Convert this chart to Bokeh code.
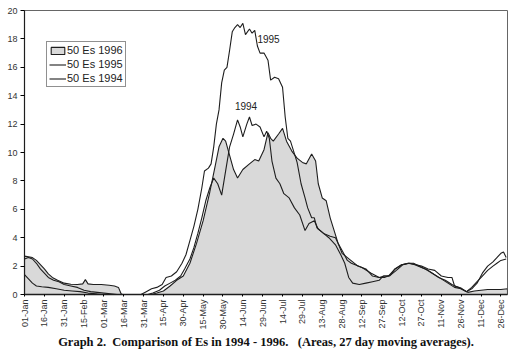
from bokeh.plotting import figure
from bokeh.models import Range1d, FixedTicker, Legend, LegendItem, Label, Title
from bokeh.embed import file_html
from bokeh.resources import INLINE

# tick labels (day-of-year positions, 15 day step)
tick_days = [0, 15, 30, 45, 60, 75, 90, 105, 120, 135, 150, 165, 180, 195, 210,
             225, 240, 255, 270, 285, 300, 315, 330, 345, 360]
tick_labels = ["01-Jan", "16-Jan", "31-Jan", "15-Feb", "01-Mar", "16-Mar", "31-Mar",
               "15-Apr", "30-Apr", "15-May", "30-May", "14-Jun", "29-Jun", "14-Jul",
               "29-Jul", "13-Aug", "28-Aug", "12-Sep", "27-Sep", "12-Oct", "27-Oct",
               "11-Nov", "26-Nov", "11-Dec", "26-Dec"]
y_ticks = [0, 2, 4, 6, 8, 10, 12, 14, 16, 18, 20]

# 1996 (area)
days_1996 = [0, 3, 6, 9, 12, 15, 18, 21, 25, 30, 35, 40, 44, 46, 48, 52, 58, 64, 68, 71, 73, 74,
             96, 100, 105, 110, 115, 120, 125, 130, 135, 140, 144, 147, 150, 152, 155, 158, 161,
             165, 170, 174, 177, 181, 184, 186, 188, 192, 195, 198, 202, 206, 210, 213, 217, 220,
             222, 225, 228, 231, 234, 237, 240, 244, 248, 252, 258, 263, 268, 272, 276, 280, 285,
             290, 294, 298, 303, 308, 313, 318, 323, 328, 332, 335, 340, 345, 350, 355, 360, 365]
es_1996 = [2.7, 2.65, 2.6, 2.4, 2.1, 1.8, 1.45, 1.2, 1.0, 0.8, 0.72, 0.7, 0.75, 1.05, 0.75, 0.7, 0.7,
           0.65, 0.6, 0.5, 0.05, 0.0,
           0.0, 0.1, 0.25, 0.6, 1.0, 1.3, 2.2, 3.6, 5.2, 7.2, 9.0, 10.4, 11.0, 10.8, 9.8, 8.8, 8.2,
           8.8, 9.2, 9.5, 9.4, 10.2, 11.4, 11.0, 10.8, 11.3, 11.7, 10.8, 10.1, 9.6, 9.3, 9.2, 9.9, 9.4,
           7.8, 6.8, 6.6, 5.4, 4.5, 3.6, 2.9, 2.6, 2.3, 2.0, 1.8, 1.3, 1.2, 1.3, 1.3, 1.8, 2.1,
           2.2, 2.2, 2.0, 1.8, 1.5, 1.2, 1.0, 0.7, 0.5, 0.3, 0.15, 0.25, 0.3, 0.35, 0.35, 0.35, 0.4]

# 1995
days_1995 = [0, 3, 6, 9, 12, 15, 18, 22, 26, 30, 35, 40, 45, 50, 55, 60, 65, 70, 88, 92, 96, 100,
             104, 107, 111, 115, 119, 122, 125, 128, 131, 134, 136, 139, 141, 143, 145, 147, 149,
             151, 153, 155, 157, 159, 161, 163, 165, 167, 170, 172, 174, 176, 178, 181, 184, 186,
             189, 192, 195, 197, 199, 201, 204, 206, 209, 212, 214, 217, 219, 221, 226, 231, 235,
             237, 240, 244, 247, 255, 262, 268, 272, 277, 281, 286, 291, 296, 300, 305, 310, 315,
             320, 323, 325, 330, 334, 338, 342, 346, 350, 354, 357, 360, 362, 364]
es_1995 = [2.5, 2.6, 2.5, 2.2, 1.8, 1.5, 1.2, 1.0, 0.9, 0.7, 0.6, 0.5, 0.3, 0.2, 0.15, 0.1, 0.05, 0.0,
           0.0, 0.2, 0.4, 0.5, 0.7, 1.2, 1.3, 1.6, 2.2, 2.8, 3.8, 4.8, 6.0, 7.5, 8.7, 8.9, 9.2, 10.4,
           12.0, 13.0, 14.9, 15.8, 16.0, 17.2, 18.5, 18.8, 19.0, 18.8, 19.1, 18.3, 18.7, 18.4, 18.6,
           17.5, 17.0, 17.0, 16.5, 15.1, 15.3, 15.2, 14.6, 12.5, 11.0, 10.8, 9.9, 9.3, 7.8, 6.8, 6.1,
           5.4, 5.4, 4.7, 4.3, 4.1, 4.0, 3.6, 3.1, 2.4, 2.2, 1.9, 1.5, 1.2, 1.2, 1.4, 1.7, 2.1, 2.2,
           2.1, 2.0, 1.8, 1.7, 1.3, 1.2, 1.2, 0.6, 0.45, 0.2, 0.4, 0.8, 1.5, 2.0, 2.3, 2.6, 2.9, 3.0, 2.6]

# 1994
days_1994 = [0, 3, 6, 9, 13, 18, 24, 30, 36, 42, 48, 54, 58, 93, 97, 102, 106, 110, 114, 118, 121,
             125, 128, 131, 134, 137, 140, 143, 146, 149, 152, 155, 158, 161, 163, 165, 168, 170, 172,
             175, 178, 181, 183, 185, 187, 190, 193, 196, 200, 204, 208, 212, 215, 219, 222, 226, 230,
             235, 239, 242, 245, 248, 253, 258, 263, 268, 271, 275, 280, 285, 290, 295, 300, 305, 310,
             315, 320, 325, 330, 334, 338, 342, 346, 350, 354, 357, 360, 364]
es_1994 = [1.4, 1.1, 0.8, 0.6, 0.55, 0.5, 0.4, 0.3, 0.25, 0.2, 0.1, 0.05, 0.0, 0.0, 0.1, 0.3, 0.6, 0.8,
           1.0, 1.3, 1.8, 2.5, 3.3, 4.3, 5.4, 6.6, 7.5, 8.2, 7.8, 7.0, 8.7, 10.4, 11.3, 12.3, 11.8, 11.1,
           12.0, 12.5, 11.9, 12.0, 11.8, 11.1, 11.5, 11.0, 9.4, 8.2, 7.8, 7.1, 6.8, 6.1, 5.6, 4.5, 5.0,
           5.2, 4.6, 4.3, 4.0, 3.5, 2.8, 2.2, 1.2, 0.8, 0.7, 0.8, 0.9, 1.0, 1.3, 1.3, 1.8, 2.1, 2.2, 2.1,
           1.9, 1.7, 1.4, 1.1, 0.8, 0.5, 0.4, 0.2, 0.5, 0.9, 1.3, 1.7, 2.0, 2.2, 2.4, 2.5]

FONT = "Liberation Sans"
INK = "#1e1e1e"
NB = "\u00a0"

p = figure(width=523, height=354, output_backend="svg", toolbar_location=None,
           x_range=Range1d(0, 365), y_range=Range1d(0, 20),
           min_border_left=24, min_border_right=16, min_border_top=10, min_border_bottom=60)
p.background_fill_color = "white"
p.border_fill_color = "white"
p.outline_line_color = "#666666"
p.outline_line_width = 1
p.xgrid.visible = False
p.ygrid.visible = False

# 1996 area (closed to baseline)
xs96 = list(days_1996) + list(reversed(days_1996))
ys96 = list(es_1996) + [0.0] * len(days_1996)
r96 = p.patch(xs96, ys96, fill_color="#d9d9d9", line_color=INK, line_width=1.1)
r95 = p.line(days_1995, es_1995, line_color=INK, line_width=1.1)
r94 = p.line(days_1994, es_1994, line_color=INK, line_width=1.1)

# axes
p.xaxis.ticker = FixedTicker(ticks=tick_days)
p.xaxis.major_label_overrides = {d: s for d, s in zip(tick_days, tick_labels)}
p.xaxis.major_label_orientation = 1.5708
p.xaxis.major_label_text_font = FONT
p.xaxis.major_label_text_font_size = "9px"
p.xaxis.major_label_text_color = "#333333"
p.xaxis.major_tick_in = 0
p.xaxis.major_tick_out = 2
p.xaxis.minor_tick_line_color = None
p.xaxis.axis_line_color = INK
p.xaxis.axis_line_width = 1.5
p.xaxis.major_label_standoff = 3

p.yaxis.ticker = FixedTicker(ticks=y_ticks)
p.yaxis.major_label_text_font = FONT
p.yaxis.major_label_text_font_size = "9px"
p.yaxis.major_label_text_color = "#333333"
p.yaxis.major_tick_in = 0
p.yaxis.major_tick_out = 4
p.yaxis.minor_tick_line_color = None
p.yaxis.axis_line_color = INK
p.yaxis.axis_line_width = 1.2
p.yaxis.major_label_standoff = 3

# legend
legend = Legend(items=[LegendItem(label="50 Es 1996", renderers=[r96]),
                       LegendItem(label="50 Es 1995", renderers=[r95]),
                       LegendItem(label="50 Es 1994", renderers=[r94])],
                location=(22, 207), label_text_font=FONT, label_text_font_size="11px",
                label_text_color="#222222", glyph_width=17, glyph_height=9,
                label_height=11, label_standoff=1, spacing=2, padding=2, margin=0,
                border_line_color="#222222", border_line_width=1,
                background_fill_alpha=1.0)
p.add_layout(legend, "center")

# curve annotations
p.add_layout(Label(x=176, y=18.0, text="1995", text_font=FONT, text_font_size="10px",
                   text_color="#222222", text_baseline="middle"))
p.add_layout(Label(x=159, y=13.3, text="1994", text_font=FONT, text_font_size="10px",
                   text_color="#222222", text_baseline="middle"))

# caption
cap_text = ("Graph 2." + NB * 2 + "Comparison of Es in 1994 - 1996." + NB * 3 +
            "(Areas, 27 day moving averages).")
cap = Title(text=cap_text, align="center", text_font="Liberation Serif", text_font_style="bold",
            text_font_size="12.5px", text_color="#111111", standoff=0, offset=0)
p.add_layout(cap, "below")

open("out.html", "w").write(file_html(p, INLINE))
